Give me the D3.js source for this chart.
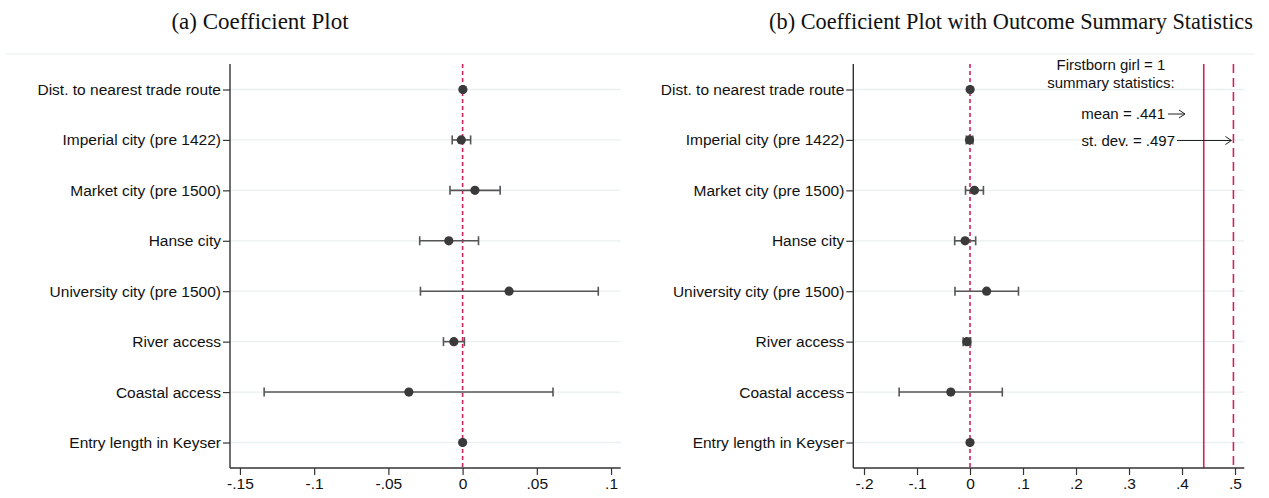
<!DOCTYPE html>
<html>
<head>
<meta charset="utf-8">
<script src="https://cdn.jsdelivr.net/npm/d3@7"></script>
<style>
  html, body { margin: 0; padding: 0; background: #fff; }
  svg { display: block; }
</style>
</head>
<body>
<svg id="chart" width="1269" height="498"></svg>
<script>
// Regression covariates (rows, top to bottom)
const categories = [
  "Dist. to nearest trade route",
  "Imperial city (pre 1422)",
  "Market city (pre 1500)",
  "Hanse city",
  "University city (pre 1500)",
  "River access",
  "Coastal access",
  "Entry length in Keyser"
];
// Point estimates and 95% confidence bounds
const coef  = [0.0002, -0.0009, 0.0083, -0.0093, 0.0313, -0.0059, -0.0362, 0.0000];
const lower = [-0.0004, -0.0070, -0.0085, -0.0289, -0.0284, -0.0129, -0.1337, -0.0003];
const upper = [0.0008, 0.0054, 0.0253, 0.0107, 0.0914, 0.0012, 0.0609, 0.0003];

// Axis ticks for each panel
const ticksA = [-0.15, -0.1, -0.05, 0, 0.05, 0.1];
const ticksB = [-0.2, -0.1, 0, 0.1, 0.2, 0.3, 0.4, 0.5];

// Outcome summary statistics (Firstborn girl = 1)
const outcomeMean = 0.441;
const outcomeSD = 0.497;

const titles = ["(a) Coefficient Plot", "(b) Coefficient Plot with Outcome Summary Statistics"];

const rows = categories.map((c, i) => ({ name: c, b: coef[i], lo: lower[i], hi: upper[i] }));

const svg = d3.select("#chart");
const RED = "#d0245a";
const SANS = "'Liberation Sans', Arial, sans-serif";
const fmt = v => {
  if (v === 0) return "0";
  const s = String(+v.toFixed(3));
  return s.replace(/^(-?)0\./, "$1.");
};

// Shared top frame line
svg.append("line")
  .attr("x1", 5).attr("x2", 1255).attr("y1", 54).attr("y2", 54)
  .attr("stroke", "#e9f0f0").attr("stroke-width", 1.2);

function panel(opt) {
  const g = svg.append("g");
  const x = d3.scaleLinear().domain(opt.domain).range([opt.left, opt.right]);
  const y = d3.scalePoint().domain(categories).range([89.5, 442.5]);
  const top = 64, bottom = 468;

  // title
  svg.append("text")
    .attr("x", opt.titleX).attr("y", 29)
    .attr("text-anchor", "middle")
    .attr("font-family", "'Liberation Serif', 'Times New Roman', serif")
    .attr("font-size", opt.titleSize)
    .attr("fill", "#111")
    .text(opt.title);

  // horizontal gridlines
  g.append("g").selectAll("line").data(categories).join("line")
    .attr("x1", opt.left).attr("x2", opt.right)
    .attr("y1", d => y(d)).attr("y2", d => y(d))
    .attr("stroke", "#e8f0f1").attr("stroke-width", 1.3);

  // zero reference line
  g.append("line")
    .attr("x1", x(0)).attr("x2", x(0)).attr("y1", top).attr("y2", bottom)
    .attr("stroke", RED).attr("stroke-width", 1.6)
    .attr("stroke-dasharray", "4,3");

  if (opt.summary) {
    g.append("line")
      .attr("x1", x(outcomeMean)).attr("x2", x(outcomeMean)).attr("y1", top).attr("y2", bottom)
      .attr("stroke", RED).attr("stroke-width", 1.6);
    g.append("line")
      .attr("x1", x(outcomeSD)).attr("x2", x(outcomeSD)).attr("y1", top).attr("y2", bottom)
      .attr("stroke", RED).attr("stroke-width", 1.6)
      .attr("stroke-dasharray", "9,5");

    const ann = g.append("g").attr("font-family", SANS).attr("font-size", 15).attr("fill", "#111");
    ann.append("text").attr("x", 1111).attr("y", 70).attr("text-anchor", "middle").text("Firstborn girl = 1");
    ann.append("text").attr("x", 1111).attr("y", 88).attr("text-anchor", "middle").text("summary statistics:");
    ann.append("text").attr("x", 1165).attr("y", 119).attr("text-anchor", "end").text("mean = " + fmt(outcomeMean));
    ann.append("text").attr("x", 1175).attr("y", 145.5).attr("text-anchor", "end").text("st. dev. = " + fmt(outcomeSD));

    // arrows
    const arrow = (x1, x2, yy) => {
      g.append("line").attr("x1", x1).attr("x2", x2).attr("y1", yy).attr("y2", yy)
        .attr("stroke", "#222").attr("stroke-width", 1);
      g.append("path")
        .attr("d", `M${x2 - 6},${yy - 4} L${x2},${yy} L${x2 - 6},${yy + 4}`)
        .attr("fill", "none").attr("stroke", "#222").attr("stroke-width", 1);
    };
    arrow(1168, 1185, 114);
    arrow(1177, x(outcomeSD) - 2, 140.5);
  }

  // confidence intervals
  const ci = g.append("g").attr("stroke", "#555").attr("stroke-width", 1.6);
  ci.selectAll("line.bar").data(rows).join("line").attr("class", "bar")
    .attr("x1", d => x(d.lo)).attr("x2", d => x(d.hi))
    .attr("y1", d => y(d.name)).attr("y2", d => y(d.name));
  ci.selectAll("line.capl").data(rows).join("line").attr("class", "capl")
    .attr("x1", d => x(d.lo)).attr("x2", d => x(d.lo))
    .attr("y1", d => y(d.name) - 4.5).attr("y2", d => y(d.name) + 4.5);
  ci.selectAll("line.caph").data(rows).join("line").attr("class", "caph")
    .attr("x1", d => x(d.hi)).attr("x2", d => x(d.hi))
    .attr("y1", d => y(d.name) - 4.5).attr("y2", d => y(d.name) + 4.5);

  // point estimates
  g.append("g").selectAll("circle").data(rows).join("circle")
    .attr("cx", d => x(d.b)).attr("cy", d => y(d.name)).attr("r", 4.6)
    .attr("fill", "#3a3a3a");

  // axes
  const xa = g.append("g").attr("transform", `translate(0,${bottom})`)
    .call(d3.axisBottom(x).tickValues(opt.ticks).tickFormat(fmt).tickSize(7).tickPadding(3));
  const ya = g.append("g").attr("transform", `translate(${opt.left},0)`)
    .call(d3.axisLeft(y).tickSize(7).tickPadding(2));
  [xa, ya].forEach(a => {
    a.select(".domain").attr("stroke", "#333").attr("stroke-width", 1.4);
    a.selectAll(".tick line").attr("stroke", "#333").attr("stroke-width", 1.2);
    a.selectAll("text").attr("font-family", SANS).attr("font-size", 15.5).attr("fill", "#111");
  });
  xa.select(".domain").attr("d", `M${opt.left},0H${opt.right}`);
  ya.select(".domain").attr("d", `M0,${top}V${bottom}`);
}

panel({
  title: titles[0], titleX: 260, titleSize: 23,
  left: 230, right: 620.7, domain: [-0.1567, 0.1065], ticks: ticksA, summary: false
});
panel({
  title: titles[1], titleX: 1011, titleSize: 22.3,
  left: 853.3, right: 1244.3, domain: [-0.2202, 0.5175], ticks: ticksB, summary: true
});
</script>
</body>
</html>
